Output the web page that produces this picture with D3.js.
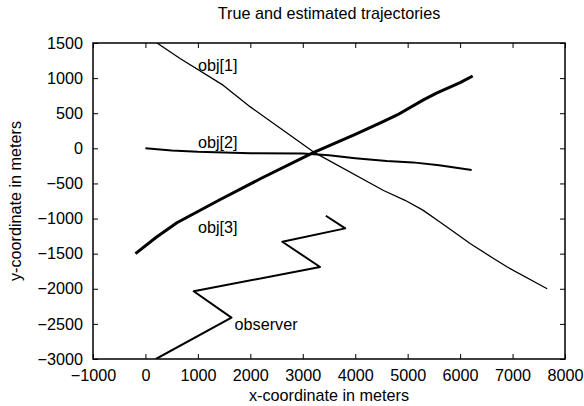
<!DOCTYPE html>
<html>
<head>
<meta charset="utf-8">
<script src="https://cdn.jsdelivr.net/npm/d3@7"></script>
<style>
  body { margin: 0; background: #fff; }
  text { font-family: "Liberation Sans", Arial, sans-serif; fill: #000; }
</style>
</head>
<body>
<svg id="chart" width="584" height="406"></svg>
<script>
// axis ticks
var xTicks = [-1000, 0, 1000, 2000, 3000, 4000, 5000, 6000, 7000, 8000];
var yTicks = [-3000, -2500, -2000, -1500, -1000, -500, 0, 500, 1000, 1500];

// trajectories (x, y in meters)
var obj1 = [[220, 1500], [660, 1280], [1480, 900], [2000, 590], [3200, -50], [4540, -600],
  [4950, -740], [5290, -880], [5580, -1030], [5850, -1175], [6190, -1355], [6630, -1565], [6900, -1690], [7660, -2000]];
var obj2 = [[0, 0], [500, -30], [1000, -50], [2000, -70], [3000, -75], [3500, -100], [4000, -140],
  [4600, -180], [5100, -200], [5600, -240], [6220, -310]];
var obj3 = [[-190, -1500], [200, -1270], [600, -1060], [1400, -740], [2200, -430], [3200, -60], [4000, 200],
  [4500, 370], [4800, 475], [5300, 690], [5550, 785], [6000, 935], [6240, 1030]];
var observer = [[200, -3000], [1640, -2410], [920, -2035], [3330, -1690], [2610, -1330],
  [3810, -1140], [3440, -960]];

var seriesNames = ['obj[1]', 'obj[2]', 'obj[3]', 'observer'];
var seriesData = [obj1, obj2, obj3, observer];
var seriesWidth = [1.3, 2, 3, 2];
// label anchor points (left end of baseline)
var labelPos = [[1000, 1100], [1000, 0], [1000, -1200], [1700, -2590]];

var width = 584, height = 406;
var margin = { top: 43, right: 19, bottom: 47, left: 93 };
var plotW = width - margin.left - margin.right;
var plotH = height - margin.top - margin.bottom;
var fontSize = '16.2px';

var svg = d3.select('#chart');

var x = d3.scaleLinear().domain([-1000, 8000]).range([0, plotW]);
var y = d3.scaleLinear().domain([-3000, 1500]).range([plotH, 0]);

var g = svg.append('g').attr('transform', 'translate(' + margin.left + ',' + margin.top + ')');

svg.append('defs').append('clipPath').attr('id', 'plot-clip')
  .append('rect').attr('width', plotW).attr('height', plotH);

function styleAxis(sel, showLabels) {
  sel.select('.domain').remove();
  sel.selectAll('.tick line').attr('stroke', '#000').attr('stroke-width', 1);
  sel.selectAll('.tick text')
    .style('font-size', fontSize)
    .style('font-family', '"Liberation Sans", Arial, sans-serif');
  if (!showLabels) sel.selectAll('.tick text').remove();
}

g.append('g')
  .attr('transform', 'translate(0,' + plotH + ')')
  .call(d3.axisBottom(x).tickValues(xTicks).tickSize(-5).tickPadding(10).tickFormat(d3.format('d')))
  .call(styleAxis, true);

g.append('g')
  .call(d3.axisTop(x).tickValues(xTicks).tickSize(-5))
  .call(styleAxis, false);

g.append('g')
  .call(d3.axisLeft(y).tickValues(yTicks).tickSize(-5).tickPadding(10).tickFormat(d3.format('d')))
  .call(styleAxis, true);

g.append('g')
  .attr('transform', 'translate(' + plotW + ',0)')
  .call(d3.axisRight(y).tickValues(yTicks).tickSize(-5))
  .call(styleAxis, false);

// border
g.append('rect')
  .attr('width', plotW)
  .attr('height', plotH)
  .attr('fill', 'none')
  .attr('stroke', '#000')
  .attr('stroke-width', 1.5);

var line = d3.line()
  .x(function(d) { return x(d[0]); })
  .y(function(d) { return y(d[1]); });

var lines = g.append('g').attr('clip-path', 'url(#plot-clip)');
seriesData.forEach(function(pts, i) {
  lines.append('path')
    .datum(pts)
    .attr('d', line)
    .attr('fill', 'none')
    .attr('stroke', '#000')
    .attr('stroke-width', seriesWidth[i])
    .attr('stroke-linejoin', 'round');
});

g.selectAll('.series-label')
  .data(seriesNames)
  .enter().append('text')
  .attr('class', 'series-label')
  .attr('x', function(d, i) { return x(labelPos[i][0]); })
  .attr('y', function(d, i) { return y(labelPos[i][1]); })
  .style('font-size', fontSize)
  .text(function(d) { return d; });

svg.append('text')
  .attr('x', margin.left + plotW / 2)
  .attr('y', 19)
  .attr('text-anchor', 'middle')
  .style('font-size', fontSize)
  .text('True and estimated trajectories');

svg.append('text')
  .attr('x', margin.left + plotW / 2)
  .attr('y', 401)
  .attr('text-anchor', 'middle')
  .style('font-size', fontSize)
  .text('x-coordinate in meters');

svg.append('text')
  .attr('transform', 'translate(21,' + (margin.top + plotH / 2) + ') rotate(-90)')
  .attr('text-anchor', 'middle')
  .style('font-size', fontSize)
  .text('y-coordinate in meters');
</script>
</body>
</html>
